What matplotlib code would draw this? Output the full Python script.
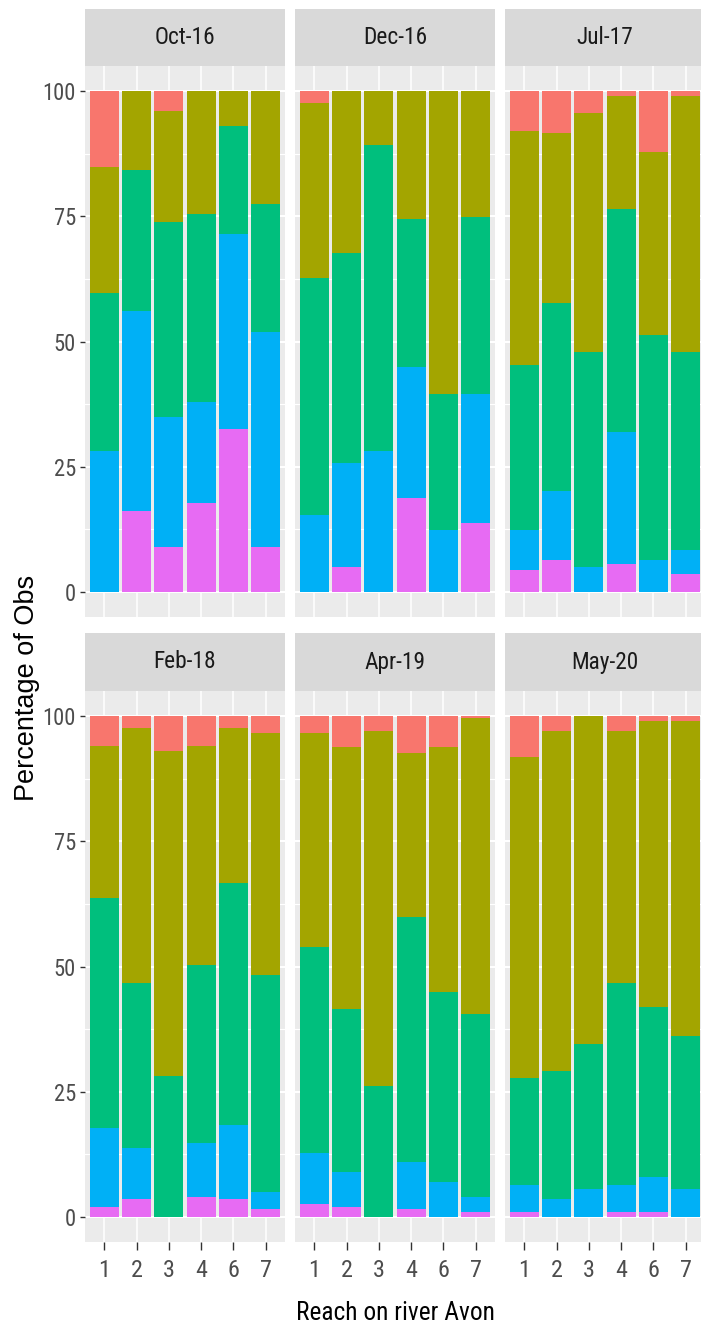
import matplotlib
matplotlib.use("Agg")
import matplotlib.pyplot as plt
from matplotlib import font_manager
from matplotlib.font_manager import FontProperties
import numpy as np

# Reaches on the x axis and survey periods (one facet each)
reaches = ["1", "2", "3", "4", "6", "7"]
periods = ["Oct-16", "Dec-16", "Jul-17", "Feb-18", "Apr-19", "May-20"]

# Percentage of observations per class, bottom of the stack first
pink = {
    "Oct-16": [0, 16.2, 8.9, 17.7, 32.5, 8.9],
    "Dec-16": [0, 4.9, 0, 18.8, 0, 13.7],
    "Jul-17": [4.4, 6.4, 0, 5.5, 0, 3.5],
    "Feb-18": [1.9, 3.5, 0, 3.9, 3.5, 1.6],
    "Apr-19": [2.5, 1.9, 0, 1.6, 0, 0.9],
    "May-20": [0.9, 0, 0, 0.9, 0.9, 0],
}
blue = {
    "Oct-16": [28.1, 39.9, 26.1, 20.2, 38.9, 42.9],
    "Dec-16": [15.3, 20.8, 28.1, 26.1, 12.3, 25.8],
    "Jul-17": [7.9, 13.8, 4.9, 26.5, 6.4, 4.9],
    "Feb-18": [15.9, 10.3, 0, 10.9, 14.8, 3.3],
    "Apr-19": [10.3, 7.0, 0, 9.3, 6.9, 3.0],
    "May-20": [5.5, 3.5, 5.5, 5.5, 7.0, 5.5],
}
green = {
    "Oct-16": [31.6, 28.2, 38.9, 37.6, 21.7, 25.7],
    "Dec-16": [47.4, 41.9, 61.2, 29.6, 27.2, 35.4],
    "Jul-17": [33.1, 37.5, 43.0, 44.5, 44.9, 39.5],
    "Feb-18": [45.8, 33.0, 28.1, 35.5, 48.3, 43.4],
    "Apr-19": [41.0, 32.6, 26.1, 48.9, 38.0, 36.6],
    "May-20": [21.3, 25.6, 29.1, 40.4, 34.0, 30.6],
}
olive = {
    "Oct-16": [25.1, 15.7, 22.2, 24.5, 6.9, 22.5],
    "Dec-16": [34.9, 32.4, 10.7, 25.5, 60.5, 25.1],
    "Jul-17": [46.7, 34.0, 47.8, 22.6, 36.5, 51.2],
    "Feb-18": [30.5, 50.8, 65.0, 43.8, 31.0, 48.3],
    "Apr-19": [42.8, 52.3, 71.0, 32.9, 48.9, 59.2],
    "May-20": [64.1, 67.9, 65.4, 50.2, 57.2, 63.0],
}
red = {
    "Oct-16": [15.2, 0, 3.9, 0, 0, 0],
    "Dec-16": [2.4, 0, 0, 0, 0, 0],
    "Jul-17": [7.9, 8.3, 4.3, 0.9, 12.2, 0.9],
    "Feb-18": [5.9, 2.4, 6.9, 5.9, 2.4, 3.4],
    "Apr-19": [3.4, 6.2, 2.9, 7.3, 6.2, 0.3],
    "May-20": [8.2, 3.0, 0, 3.0, 0.9, 0.9],
}

layers = [pink, blue, green, olive, red]
colors = ["#E76BF3", "#00B0F6", "#00BF7D", "#A3A500", "#F8766D"]


# ---- fonts: prefer a condensed sans face for the horizontal labels ----
def find_condensed():
    prefs = ["Liberation Sans Narrow", "Roboto Condensed", "Open Sans Condensed",
             "DejaVu Sans", "Roboto", "Open Sans", "Noto Sans", "Liberation Sans"]
    hits = []
    for f in font_manager.fontManager.ttflist:
        narrowish = ("Narrow" in f.name or "Condensed" in f.name
                     or f.stretch in ("condensed", "semi-condensed", 75, 87.5))
        if not narrowish:
            continue
        if f.style != "normal" or f.weight not in (400, "normal", "regular"):
            continue
        base = f.name
        rank = len(prefs)
        for k, p in enumerate(prefs):
            if base.startswith(p):
                rank = k
                break
        hits.append((rank, f.fname))
    hits.sort()
    return hits[0][1] if hits else None


installed = {f.name for f in font_manager.fontManager.ttflist}
regular = [f for f in ["Liberation Sans", "DejaVu Sans"] if f in installed]
cond_path = find_condensed()


def label_font(size):
    if cond_path:
        return FontProperties(fname=cond_path, size=size * 1.12)
    return FontProperties(family=regular, size=size)


W, H = 701, 1330
fig = plt.figure(figsize=(W / 100, H / 100), dpi=100)
fig.patch.set_facecolor("white")

col_x = [85, 295, 505]
panel_w = 200
row_panel = [(66, 617), (691, 1242)]
row_strip = [(9, 66), (633, 691)]


def fig_rect(x0, y0, x1, y1):
    return [x0 / W, 1 - y1 / H, (x1 - x0) / W, (y1 - y0) / H]


tick_fp = label_font(14.5)
xtick_fp = label_font(15.5)
strip_fp = label_font(15)
xtitle_fp = label_font(16.3)

xpos = np.arange(len(reaches))
for i, period in enumerate(periods):
    r, c = divmod(i, 3)
    x0 = col_x[c]
    py0, py1 = row_panel[r]
    ax = fig.add_axes(fig_rect(x0, py0, x0 + panel_w, py1))
    ax.set_facecolor("#EBEBEB")
    for s in ax.spines.values():
        s.set_visible(False)

    bottom = np.zeros(len(reaches))
    for layer, col in zip(layers, colors):
        vals = np.array(layer[period], dtype=float)
        ax.bar(xpos, vals, width=0.9, bottom=bottom, color=col,
               linewidth=0, zorder=3)
        bottom += vals

    ax.set_xlim(-0.6, len(reaches) - 0.4)
    ax.set_ylim(-5, 105)
    ax.set_yticks([0, 25, 50, 75, 100])
    ax.set_yticks([12.5, 37.5, 62.5, 87.5], minor=True)
    ax.set_xticks(xpos)
    ax.grid(which="major", axis="y", color="white", linewidth=1.5, zorder=0)
    ax.grid(which="minor", axis="y", color="white", linewidth=0.8, zorder=0)
    ax.grid(which="major", axis="x", color="white", linewidth=1.1, zorder=0)
    ax.set_axisbelow(True)

    ax.tick_params(axis="y", which="minor", length=0)
    ax.tick_params(axis="y", which="major", length=3.4, width=1.0,
                   color="#333333", pad=3, labelcolor="#4D4D4D")
    ax.tick_params(axis="x", which="major", length=6.0, width=1.0,
                   color="#333333", pad=6, labelcolor="#4D4D4D")
    if c == 0:
        ax.set_yticklabels(["0", "25", "50", "75", "100"], fontproperties=tick_fp)
    else:
        ax.tick_params(axis="y", which="major", length=0, labelleft=False)
    if r == 1:
        ax.set_xticklabels(reaches, fontproperties=xtick_fp)
    else:
        ax.tick_params(axis="x", length=0, labelbottom=False)

    # facet strip
    sy0, sy1 = row_strip[r]
    sax = fig.add_axes(fig_rect(x0, sy0, x0 + panel_w, sy1))
    sax.set_facecolor("#D9D9D9")
    sax.set_xticks([])
    sax.set_yticks([])
    for s in sax.spines.values():
        s.set_visible(False)
    sax.text(0.5, 0.5, period, ha="center", va="center",
             color="#1A1A1A", fontproperties=strip_fp, transform=sax.transAxes)

fig.text(395 / W, 1 - 1313 / H, "Reach on river Avon", ha="center",
         va="center", color="black", fontproperties=xtitle_fp)
fig.text(27 / W, 1 - 688 / H, "Percentage of Obs", ha="center",
         va="center", rotation=90, fontsize=19.5, color="black", family=regular)

fig.savefig("out.png", dpi=100)
